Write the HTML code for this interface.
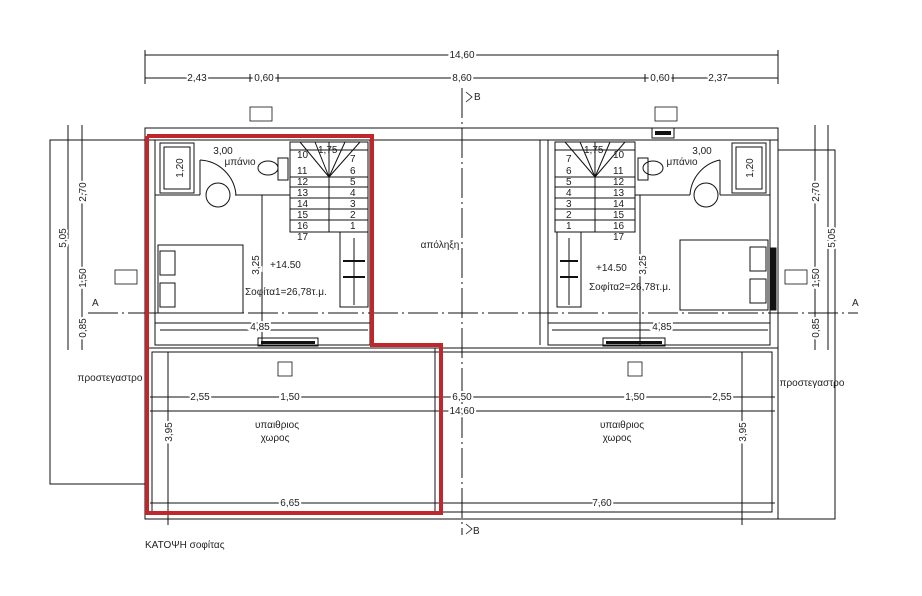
<!DOCTYPE html>
<html><head><meta charset="utf-8"><style>
html,body{margin:0;padding:0;background:#fff;}
svg{display:block;font-family:"Liberation Sans",sans-serif;}
text{fill:#222;font-size:10px;}
</style></head><body>
<svg width="922" height="596" viewBox="0 0 922 596" xmlns="http://www.w3.org/2000/svg">
<g stroke="#111" stroke-width="1" fill="none">
<!-- top dims -->
<line x1="145" y1="55" x2="778" y2="55"/>
<line x1="145" y1="78" x2="778" y2="78"/>
<line x1="145" y1="50" x2="145" y2="84"/><line x1="778" y1="50" x2="778" y2="84"/>
<line x1="250" y1="74" x2="250" y2="82"/><line x1="278" y1="74" x2="278" y2="82"/>
<line x1="645" y1="74" x2="645" y2="82"/><line x1="673" y1="74" x2="673" y2="82"/>
<!-- axis lines -->
<line x1="462" y1="88" x2="462" y2="535" stroke-dasharray="30,4,2,4"/>
<line x1="88" y1="313" x2="858" y2="313" stroke-dasharray="30,4,2,4"/>
<!-- outer building -->
<rect x="145" y="128" width="633" height="220"/>
<line x1="145" y1="140" x2="778" y2="140"/>
<!-- left house -->
<rect x="155" y="140" width="215" height="205"/>
<line x1="155" y1="323" x2="370" y2="323"/>
<line x1="160" y1="330" x2="368" y2="330"/>
<!-- right house -->
<rect x="548" y="140" width="222" height="205"/>
<line x1="548" y1="323" x2="770" y2="323"/>
<line x1="552" y1="330" x2="768" y2="330"/>
<!-- middle area lines -->
<line x1="372" y1="140" x2="372" y2="345"/><line x1="540" y1="140" x2="540" y2="345"/>
<!-- bathrooms -->
<rect x="160" y="143" width="34" height="50"/><rect x="164" y="147" width="26" height="42"/>
<line x1="155" y1="195" x2="200" y2="195"/><line x1="235" y1="195" x2="290" y2="195"/>
<line x1="200" y1="160" x2="200" y2="195"/><path d="M200 160 A38 38 0 0 1 236 195"/>
<ellipse cx="268" cy="168" rx="10" ry="7"/><rect x="278" y="158" width="10" height="22"/>
<rect x="732" y="143" width="34" height="50"/><rect x="736" y="147" width="26" height="42"/>
<line x1="635" y1="195" x2="690" y2="195"/><line x1="720" y1="195" x2="770" y2="195"/>
<line x1="720" y1="160" x2="720" y2="195"/><path d="M720 160 A38 38 0 0 0 690 195"/>
<ellipse cx="653" cy="168" rx="10" ry="7"/><rect x="638" y="158" width="10" height="22"/>
<circle cx="218" cy="195" r="12"/><circle cx="706" cy="195" r="12"/>
<!-- beds -->
<rect x="158" y="245" width="85" height="68"/><rect x="160" y="251" width="15" height="24"/><rect x="160" y="283" width="15" height="24"/>
<rect x="680" y="240" width="88" height="70"/><rect x="750" y="247" width="16" height="24"/><rect x="750" y="279" width="16" height="24"/>
<rect x="770" y="248" width="6" height="62" fill="#111"/>
<!-- stairs left -->
<rect x="290" y="142" width="78" height="90"/>
<line x1="329" y1="142" x2="329" y2="232"/>
<g><line x1="290" y1="150" x2="368" y2="150"/>
<line x1="290" y1="177" x2="368" y2="177"/><line x1="290" y1="187" x2="368" y2="187"/><line x1="290" y1="198" x2="368" y2="198"/><line x1="290" y1="209" x2="368" y2="209"/><line x1="290" y1="220" x2="368" y2="220"/>
<line x1="300" y1="142" x2="329" y2="177"/><line x1="315" y1="142" x2="329" y2="177"/><line x1="345" y1="142" x2="329" y2="177"/><line x1="360" y1="142" x2="329" y2="177"/></g>
<rect x="340" y="232" width="28" height="75"/><line x1="354" y1="238" x2="354" y2="305"/>
<!-- stairs right -->
<rect x="555" y="142" width="80" height="90"/>
<line x1="595" y1="142" x2="595" y2="232"/>
<line x1="555" y1="150" x2="635" y2="150"/>
<line x1="555" y1="177" x2="635" y2="177"/><line x1="555" y1="187" x2="635" y2="187"/><line x1="555" y1="198" x2="635" y2="198"/><line x1="555" y1="209" x2="635" y2="209"/><line x1="555" y1="220" x2="635" y2="220"/>
<line x1="565" y1="142" x2="595" y2="177"/><line x1="580" y1="142" x2="595" y2="177"/><line x1="610" y1="142" x2="595" y2="177"/><line x1="625" y1="142" x2="595" y2="177"/>
<rect x="557" y="232" width="24" height="75"/><line x1="569" y1="238" x2="569" y2="305"/>
<!-- windows -->
<rect x="258" y="338" width="60" height="8"/><rect x="603" y="338" width="62" height="8"/>
<rect x="652" y="128" width="22" height="10"/>
<!-- lower area -->
<rect x="145" y="348" width="633" height="171"/>
<rect x="152" y="352" width="620" height="160"/>
<line x1="435" y1="348" x2="435" y2="512"/>
<!-- side boxes -->
<polyline points="145,140 50,140 50,484 145,484"/>
<polyline points="778,150 835,150 835,519 778,519"/>
<!-- side dims -->
<line x1="68" y1="125" x2="68" y2="350"/><line x1="82" y1="125" x2="82" y2="350"/>
<line x1="828" y1="125" x2="828" y2="350"/><line x1="815" y1="125" x2="815" y2="350"/>
<!-- dims lower -->
<line x1="150" y1="397" x2="775" y2="397"/>
<line x1="150" y1="411" x2="775" y2="411"/>
<line x1="150" y1="503" x2="775" y2="503"/>
<line x1="168" y1="352" x2="168" y2="525"/><line x1="742" y1="352" x2="742" y2="525"/>
<line x1="370" y1="150" x2="370" y2="345"/>
<line x1="262" y1="195" x2="262" y2="345"/><line x1="640" y1="195" x2="640" y2="345"/>
</g>
<g fill="#111">
<rect x="261" y="341" width="54" height="3"/><rect x="606" y="341" width="56" height="3"/>
<rect x="655" y="131" width="16" height="4"/>
<rect x="343" y="260" width="22" height="2"/><rect x="343" y="276" width="22" height="2"/>
<rect x="560" y="260" width="18" height="2"/><rect x="560" y="276" width="18" height="2"/>
</g>
<!-- red outline -->
<polyline points="147,136 372,136 372,345 441,345 441,513 147,513 147,136" fill="none" stroke="#c0272d" stroke-width="4"/>
<!-- labels -->
<g text-anchor="middle">
<text x="462" y="58" style="paint-order:stroke" stroke="#fff" stroke-width="4">14,60</text>
<text x="197" y="81" stroke="#fff" stroke-width="4" style="paint-order:stroke">2,43</text>
<text x="264" y="81" stroke="#fff" stroke-width="4" style="paint-order:stroke">0,60</text>
<text x="462" y="81" stroke="#fff" stroke-width="4" style="paint-order:stroke">8,60</text>
<text x="660" y="81" stroke="#fff" stroke-width="4" style="paint-order:stroke">0,60</text>
<text x="718" y="81" stroke="#fff" stroke-width="4" style="paint-order:stroke">2,37</text>
<text x="440" y="248">απόληξη</text>
<text x="240" y="165">μπάνιο</text><text x="682" y="165">μπάνιο</text>
<text x="223" y="154">3,00</text><text x="702" y="154">3,00</text>
<text x="200" y="400" stroke="#fff" stroke-width="4" style="paint-order:stroke">2,55</text>
<text x="290" y="400" stroke="#fff" stroke-width="4" style="paint-order:stroke">1,50</text>
<text x="462" y="400" stroke="#fff" stroke-width="4" style="paint-order:stroke">6,50</text>
<text x="635" y="400" stroke="#fff" stroke-width="4" style="paint-order:stroke">1,50</text>
<text x="722" y="400" stroke="#fff" stroke-width="4" style="paint-order:stroke">2,55</text>
<text x="462" y="414" stroke="#fff" stroke-width="4" style="paint-order:stroke">14,60</text>
<text x="290" y="506" stroke="#fff" stroke-width="4" style="paint-order:stroke">6,65</text>
<text x="602" y="506" stroke="#fff" stroke-width="4" style="paint-order:stroke">7,60</text>
<text x="277" y="428">υπαιθριος</text><text x="275" y="441">χωρος</text>
<text x="622" y="428">υπαιθριος</text><text x="617" y="441">χωρος</text>
<text x="110" y="381">προστεγαστρο</text><text x="812" y="386">προστεγαστρο</text>
<text x="260" y="330" stroke="#fff" stroke-width="4" style="paint-order:stroke">4,85</text>
<text x="662" y="330" stroke="#fff" stroke-width="4" style="paint-order:stroke">4,85</text>
</g>
<g font-size="10">
<g transform="rotate(-90)" text-anchor="middle">
<text x="-238" y="66" stroke="#fff" stroke-width="4" style="paint-order:stroke">5,05</text>
<text x="-192" y="86" stroke="#fff" stroke-width="4" style="paint-order:stroke">2,70</text>
<text x="-278" y="86" stroke="#fff" stroke-width="4" style="paint-order:stroke">1,50</text>
<text x="-328" y="86" stroke="#fff" stroke-width="4" style="paint-order:stroke">0,85</text>
<text x="-238" y="835" stroke="#fff" stroke-width="4" style="paint-order:stroke">5,05</text>
<text x="-192" y="819" stroke="#fff" stroke-width="4" style="paint-order:stroke">2,70</text>
<text x="-278" y="819" stroke="#fff" stroke-width="4" style="paint-order:stroke">1,50</text>
<text x="-328" y="819" stroke="#fff" stroke-width="4" style="paint-order:stroke">0,85</text>
<text x="-168" y="183" stroke="#fff" stroke-width="4" style="paint-order:stroke">1,20</text>
<text x="-168" y="753" stroke="#fff" stroke-width="4" style="paint-order:stroke">1,20</text>
<text x="-265" y="259" stroke="#fff" stroke-width="4" style="paint-order:stroke">3,25</text>
<text x="-265" y="646" stroke="#fff" stroke-width="4" style="paint-order:stroke">3,25</text>
<text x="-432" y="172" stroke="#fff" stroke-width="4" style="paint-order:stroke">3,95</text>
<text x="-432" y="746" stroke="#fff" stroke-width="4" style="paint-order:stroke">3,95</text>
</g>
<text x="270" y="268" font-size="11">+14.50</text><text x="596" y="271" font-size="11">+14.50</text>
<text x="245" y="295">Σοφίτα1=26,78τ.μ.</text><text x="589" y="290">Σοφίτα2=26,78τ.μ.</text>
<text x="474" y="100">B</text><text x="473" y="534">B</text>
<text x="92" y="306">A</text><text x="852" y="306">A</text>
<text x="145" y="548" font-size="12">ΚΑΤΟΨΗ σοφίτας</text>
<g font-size="9.5">
<text x="297" y="158">10</text><text x="297" y="174">11</text><text x="297" y="185">12</text><text x="297" y="196">13</text><text x="297" y="207">14</text><text x="297" y="218">15</text><text x="297" y="229">16</text><text x="297" y="240">17</text>
<text x="350" y="162">7</text><text x="350" y="174">6</text><text x="350" y="185">5</text><text x="350" y="196">4</text><text x="350" y="207">3</text><text x="350" y="218">2</text><text x="350" y="229">1</text>
<text x="566" y="162">7</text><text x="566" y="174">6</text><text x="566" y="185">5</text><text x="566" y="196">4</text><text x="566" y="207">3</text><text x="566" y="218">2</text><text x="566" y="229">1</text>
<text x="613" y="158">10</text><text x="613" y="174">11</text><text x="613" y="185">12</text><text x="613" y="196">13</text><text x="613" y="207">14</text><text x="613" y="218">15</text><text x="613" y="229">16</text><text x="613" y="240">17</text>
<text x="318" y="153">1,75</text><text x="584" y="153">1,75</text>
</g>
</g>
<g fill="none" stroke="#111" stroke-width="0.8">
<rect x="250" y="107" width="22" height="14"/><rect x="655" y="107" width="22" height="14"/>
<rect x="115" y="270" width="22" height="14"/><rect x="785" y="270" width="22" height="14"/>
<rect x="278" y="362" width="14" height="14"/><rect x="628" y="362" width="14" height="14"/>
<path d="M466 92 l6 5 l-6 5"/><path d="M466 524 l6 5 l-6 5"/>
</g>
</svg>
</body></html>
